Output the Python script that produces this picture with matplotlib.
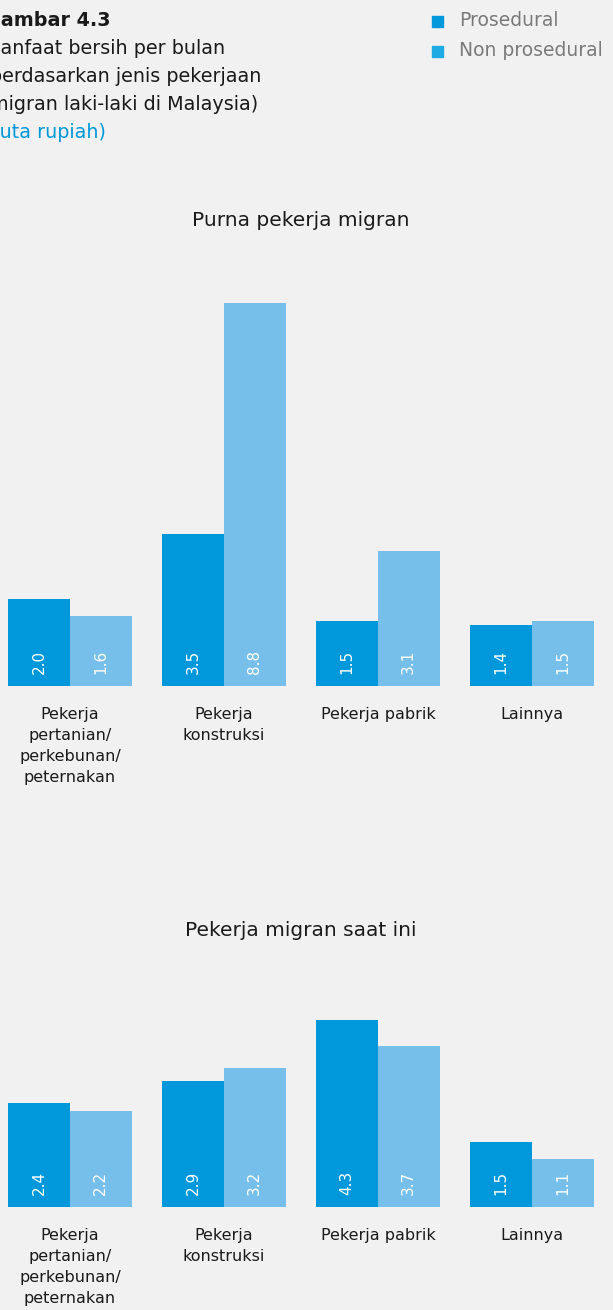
import matplotlib
matplotlib.use("Agg")
import matplotlib.pyplot as plt
from matplotlib.patches import Rectangle
import numpy as np

# data
categories = ["Pekerja\npertanian/\nperkebunan/\npeternakan", "Pekerja\nkonstruksi",
              "Pekerja pabrik", "Lainnya"]
purna_prosedural = [2.0, 3.5, 1.5, 1.4]
purna_non_prosedural = [1.6, 8.8, 3.1, 1.5]
kini_prosedural = [2.4, 2.9, 4.3, 1.5]
kini_non_prosedural = [2.2, 3.2, 3.7, 1.1]
series_names = ["Prosedural", "Non prosedural"]
panel_titles = ["Purna pekerja migran", "Pekerja migran saat ini"]
title_lines = ["Gambar 4.3", "Manfaat bersih per bulan", "berdasarkan jenis pekerjaan",
               "migran laki-laki di Malaysia)", "(juta rupiah)"]

BLUE = "#0098da"
LIGHT = "#76bfea"
LEGEND_LIGHT = "#1eaae2"
BG = "#f1f1f1"
FONT = "DejaVu Sans"

W, H = 613, 1310
fig = plt.figure(figsize=(W / 100, H / 100), dpi=100, facecolor=BG)


def fx(px):
    return px / W


def fy(py):
    return 1 - py / H


PX_PER_UNIT = 43.5
BAR_W = 0.4
x = np.arange(len(categories))


def draw_panel(baseline_px, ymax, pro, non, title, title_py):
    height_px = ymax * PX_PER_UNIT
    ax = fig.add_axes([0, fy(baseline_px), 1, height_px / H])
    ax.set_facecolor("none")
    ax.bar(x - BAR_W / 2, pro, BAR_W, color=BLUE)
    ax.bar(x + BAR_W / 2, non, BAR_W, color=LIGHT)
    for xs, vals in ((x - BAR_W / 2, pro), (x + BAR_W / 2, non)):
        for xi, v in zip(xs, vals):
            ax.annotate(f"{v:.1f}", (xi, 0), xytext=(0, 17.5), textcoords="offset points",
                        ha="center", va="center", rotation=90, color="white",
                        fontsize=11, family=FONT)
    ax.set_xlim(-70 / 154, (W - 70) / 154)
    ax.set_ylim(0, ymax)
    ax.set_xticks(x, categories, fontsize=11.5, family=FONT, color="#1a1a1a")
    for lbl in ax.get_xticklabels():
        lbl.set_linespacing(1.5)
    ax.tick_params(axis="x", length=0, pad=15)
    ax.set_yticks([])
    for s in ax.spines.values():
        s.set_visible(False)
    fig.text(fx(301), fy(title_py), title, ha="center", va="center",
             fontsize=14.5, family=FONT, color="#1a1a1a")
    return ax


draw_panel(686, 10, purna_prosedural, purna_non_prosedural, panel_titles[0], 220)
draw_panel(1207, 5, kini_prosedural, kini_non_prosedural, panel_titles[1], 930)

# title block, cut off on the left like the reference
title_y = [20, 48, 76, 104, 132]
offsets = [-15, -16, -10, -10, -13]
for i, (line, py, off) in enumerate(zip(title_lines, title_y, offsets)):
    color = "#0098da" if i == 4 else "#1a1a1a"
    weight = "bold" if i == 0 else "normal"
    fig.text(fx(off), fy(py), line, ha="left", va="center", fontsize=13.8,
             family=FONT, color=color, weight=weight)

# legend
for name, col, py in zip(series_names, [BLUE, LEGEND_LIGHT], [21, 51]):
    fig.add_artist(Rectangle((fx(432), fy(py + 6)), 11 / W, 11 / H, color=col,
                             transform=fig.transFigure))
    fig.text(fx(459), fy(py), name, ha="left", va="center", fontsize=13.5,
             family=FONT, color="#7a7a7a")

fig.savefig("out.png", dpi=100, facecolor=BG)
